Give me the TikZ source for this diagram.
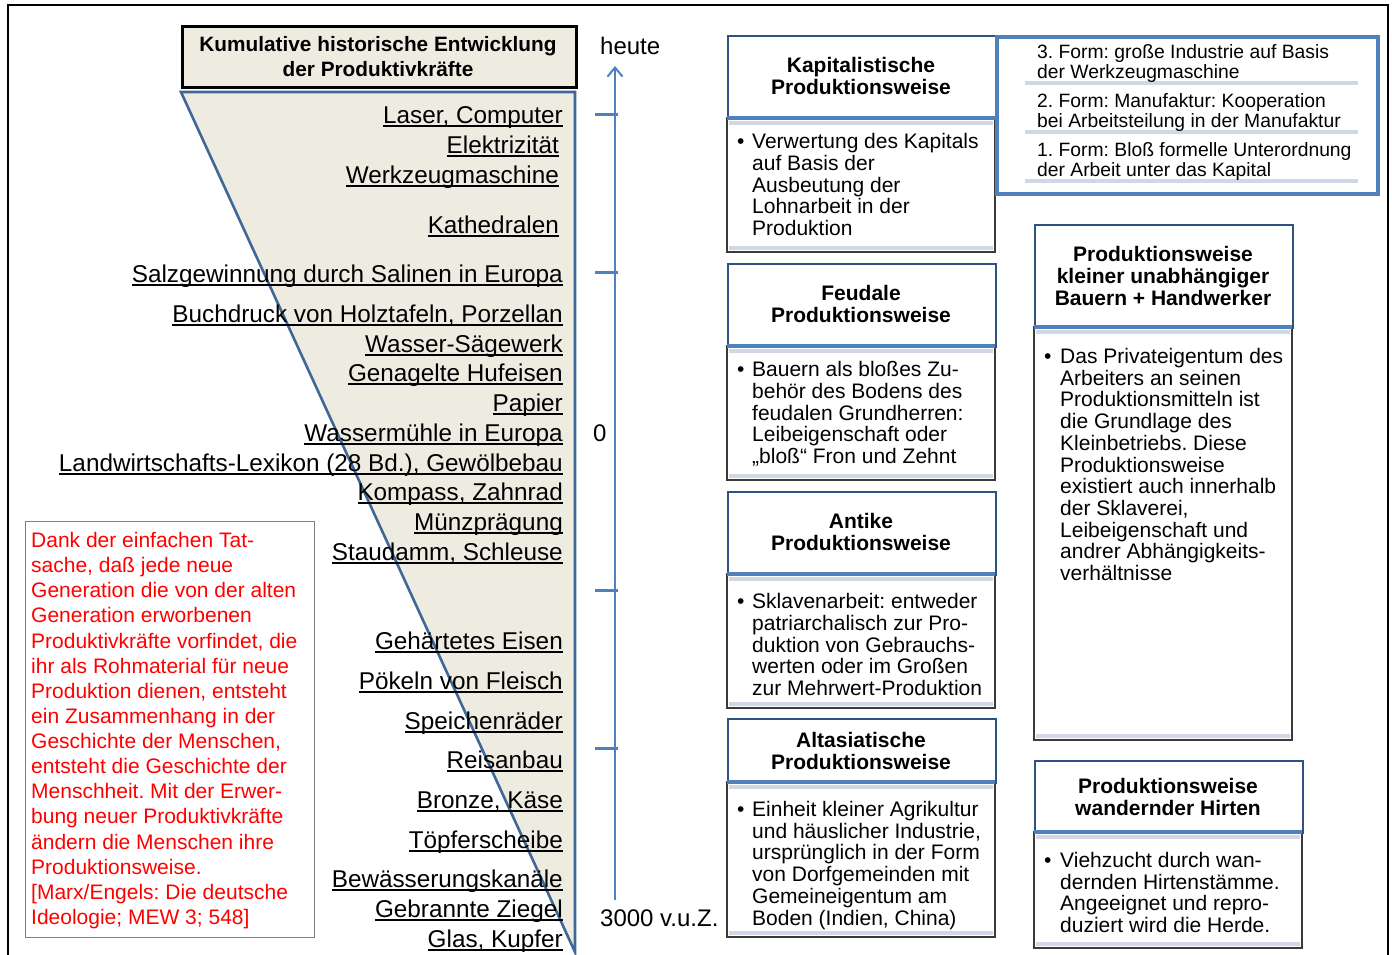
\documentclass[tikz,border=0pt]{standalone}
\usepackage{fontspec}
\setmainfont{Liberation Sans}
\usetikzlibrary{arrows.meta}
\frenchspacing
\definecolor{beige}{HTML}{EEECE1}
\definecolor{triblue}{HTML}{3F6797}
\definecolor{axblue}{HTML}{4F81BD}
\definecolor{hdrblue}{HTML}{2F5283}
\definecolor{bandcol}{HTML}{D0D8E8}
\definecolor{boxgray}{HTML}{3A3A3A}
\definecolor{quotered}{HTML}{FF0000}
\newcommand\myul[1]{{\setbox0\hbox{#1}\rlap{\rule[-3.6pt]{\wd0}{1.8pt}}\box0}}
\newcommand\txtlines[6]{\foreach \xx [count=\kk from 0] in {#6}{\node[#5] (#1\kk) at ({#2},{#3+\kk*#4}) {\xx};}}
\newcommand\modebox[7]{%
  \draw[bodybox] (#2,#4) rectangle (#5,#6);
  \draw[bandline] ({#2+2},{#4+5}) -- ({#5-2},{#4+5});
  \draw[bandline] ({#2+2},{#6-4}) -- ({#5-2},{#6-4});
  \node[hdrbox, anchor=north west, minimum width={#5-#2}, minimum height={#4-#3}] (#1) at (#2,#3) {};
  \draw[hdrline] (#2,#4) -- (#5,#4);
  \node[bullet] (#1b) at ({#2+10},{#7}) {•};
}
\tikzset{
  lab/.style={anchor=base east, inner sep=0pt, font=\fontsize{24.3}{28}\selectfont},
  body/.style={anchor=base west, inner sep=0pt, font=\fontsize{21}{22}\selectfont},
  bullet/.style={anchor=base west, inner sep=0pt, font=\fontsize{21}{22}\selectfont},
  hdr/.style={anchor=base, inner sep=0pt, font=\fontsize{21}{22}\selectfont\bfseries},
  ttl/.style={anchor=base, inner sep=0pt, font=\fontsize{20.8}{22}\selectfont\bfseries},
  form/.style={anchor=base west, inner sep=0pt, font=\fontsize{19.3}{20}\selectfont},
  quote/.style={anchor=base west, inner sep=0pt, text=quotered, font=\fontsize{21}{22}\selectfont},
  axlab/.style={anchor=base west, inner sep=0pt, font=\fontsize{24}{28}\selectfont},
  hdrbox/.style={draw=hdrblue, line width=2.4pt, fill=white, inner sep=0pt},
  bodybox/.style={draw=boxgray, line width=1.3pt, fill=white},
  bandline/.style={draw=bandcol, line width=4pt},
  hdrline/.style={draw=axblue, line width=3.5pt},
  axis/.style={draw=axblue, line width=2pt},
  tick/.style={draw=axblue, line width=3pt},
}
\begin{document}
\begin{tikzpicture}[x=1pt,y=-1pt]
\useasboundingbox (0,0) rectangle (1392,954);
\fill[white] (0,0) rectangle (1392,954);
% outer frame
\draw[line width=2.5pt] (8,956) -- (8,5) -- (1388,5) -- (1388,956);

% title box
\node[draw=black, line width=3pt, fill=beige, anchor=north west, minimum width=394pt, minimum height=61pt, inner sep=0pt] (title) at (181,25) {};
\txtlines{tt}{378}{51.4}{25}{ttl}{{Kumulative historische Entwicklung},{der Produktivkräfte}}

% wedge
\filldraw[fill=beige, draw=triblue, line width=2.6pt, line join=miter] (181,92) -- (575,92) -- (575,952) -- cycle;

% labels in wedge
\foreach \yy/\rx/\lbl [count=\nn] in {
 123.6/563/{Laser, Computer},
 153.6/559/{Elektrizität},
 183.6/559/{Werkzeugmaschine},
 233.6/559/{Kathedralen},
 282.6/563/{Salzgewinnung durch Salinen in Europa},
 322.6/563/{Buchdruck von Holztafeln, Porzellan},
 352.6/563/{Wasser-Sägewerk},
 381.6/563/{Genagelte Hufeisen},
 411.6/563/{Papier},
 441.6/563/{Wassermühle in Europa},
 471.6/563/{Landwirtschafts-Lexikon (28 Bd.), Gewölbebau},
 500.6/563/{Kompass, Zahnrad},
 530.6/563/{Münzprägung},
 560.6/563/{Staudamm, Schleuse},
 649.6/563/{Gehärtetes Eisen},
 689.6/563/{Pökeln von Fleisch},
 729.6/563/{Speichenräder},
 768.6/563/{Reisanbau},
 808.6/563/{Bronze, Käse},
 848.6/563/{Töpferscheibe},
 887.6/563/{Bewässerungskanäle},
 917.6/563/{Gebrannte Ziegel},
 947.6/563/{Glas, Kupfer}}
 {\node[lab] (pk\nn) at (\rx,\yy) {\myul{\lbl}};}

% time axis
\coordinate (axbot) at (615,900);
\coordinate (axtop) at (615,66);
\draw[axis, -{Straight Barb[length=9pt,width=15pt,line width=2pt]}] (axbot) -- (axtop);
\foreach \yy [count=\nn] in {114,272,590,748}{
  \coordinate (tl\nn) at (595,\yy);
  \coordinate (tr\nn) at (618,\yy);
  \draw[tick] (tl\nn) -- (tr\nn);}
\node[axlab] (heute) at (600,54.6) {heute};
\node[axlab] (null) at (593,441.6) {0};
\node[axlab] (vuz) at (600,926.6) {3000 v.u.Z.};

% quote box
\node[draw=gray, line width=1.2pt, anchor=north west, minimum width=289pt, minimum height=416pt, inner sep=0pt] (qbox) at (25,521) {};
\txtlines{q}{31}{547.5}{25.13}{quote}{{Dank der einfachen Tat-},{sache, daß jede neue},{Generation die von der alten},{Generation erworbenen},{Produktivkräfte vorfindet, die},{ihr als Rohmaterial für neue},{Produktion dienen, entsteht},{ein Zusammenhang in der},{Geschichte der Menschen,},{entsteht die Geschichte der},{Menschheit. Mit der Erwer-},{bung neuer Produktivkräfte},{ändern die Menschen ihre},{Produktionsweise.},{[Marx/Engels: Die deutsche},{Ideologie; MEW 3; 548]}}

% Kapitalistische
\modebox{kap}{727}{35}{118}{995}{252}{148.5}
\txtlines{kaph}{861}{72.5}{22}{hdr}{{Kapitalistische},{Produktionsweise}}
\txtlines{kapt}{752}{148.5}{21.8}{body}{{Verwertung des Kapitals},{auf Basis der},{Ausbeutung der},{Lohnarbeit in der},{Produktion}}

% Feudale
\modebox{feu}{727}{263}{346}{995}{480}{376.5}
\txtlines{feuh}{861}{300.5}{22}{hdr}{{Feudale},{Produktionsweise}}
\txtlines{feut}{752}{376.5}{21.8}{body}{{Bauern als bloßes Zu-},{behör des Bodens des},{feudalen Grundherren:},{Leibeigenschaft oder},{„bloß“ Fron und Zehnt}}

% Antike
\modebox{ant}{727}{491}{574}{995}{708}{608.5}
\txtlines{anth}{861}{528.5}{22}{hdr}{{Antike},{Produktionsweise}}
\txtlines{antt}{752}{608.5}{21.8}{body}{{Sklavenarbeit: entweder},{patriarchalisch zur Pro-},{duktion von Gebrauchs-},{werten oder im Großen},{zur Mehrwert-Produktion}}

% Altasiatische
\modebox{alt}{727}{718}{782}{995}{937}{816.5}
\txtlines{alth}{861}{747.5}{22}{hdr}{{Altasiatische},{Produktionsweise}}
\txtlines{altt}{752}{816.5}{21.7}{body}{{Einheit kleiner Agrikultur},{und häuslicher Industrie,},{ursprünglich in der Form},{von Dorfgemeinden mit},{Gemeineigentum am},{Boden (Indien, China)}}

% forms box
\node[draw=axblue, line width=3.5pt, anchor=north west, minimum width=381pt, minimum height=157pt, inner sep=0pt] (forms) at (995,35) {};
\foreach \yy [count=\nn] in {83,132,181}{
  \coordinate (fl\nn) at (1025,\yy);
  \coordinate (fr\nn) at (1358,\yy);
  \draw[bandline, line width=3.5pt] (fl\nn) -- (fr\nn);}
\txtlines{fa}{1037}{58.9}{20}{form}{{3. Form: große Industrie auf Basis},{der Werkzeugmaschine}}
\txtlines{fb}{1037}{107.9}{20}{form}{{2. Form: Manufaktur: Kooperation},{bei Arbeitsteilung in der Manufaktur}}
\txtlines{fc}{1037}{156.9}{20}{form}{{1. Form: Bloß formelle Unterordnung},{der Arbeit unter das Kapital}}

% kleine Bauern
\modebox{kle}{1034}{224}{327}{1292}{740}{363.5}
\txtlines{kleh}{1163}{261.5}{22}{hdr}{{Produktionsweise},{kleiner unabhängiger},{Bauern + Handwerker}}
\txtlines{klet}{1060}{363.5}{21.7}{body}{{Das Privateigentum des},{Arbeiters an seinen},{Produktionsmitteln ist},{die Grundlage des},{Kleinbetriebs. Diese},{Produktionsweise},{existiert auch innerhalb},{der Sklaverei,},{Leibeigenschaft und},{andrer Abhängigkeits-},{verhältnisse}}

% Hirten
\modebox{hir}{1034}{760}{832}{1302}{948}{867.5}
\txtlines{hirh}{1168}{793.5}{21.5}{hdr}{{Produktionsweise},{wandernder Hirten}}
\txtlines{hirt}{1060}{867.5}{21.7}{body}{{Viehzucht durch wan-},{dernden Hirtenstämme.},{Angeeignet und repro-},{duziert wird die Herde.}}
\end{tikzpicture}
\end{document}
